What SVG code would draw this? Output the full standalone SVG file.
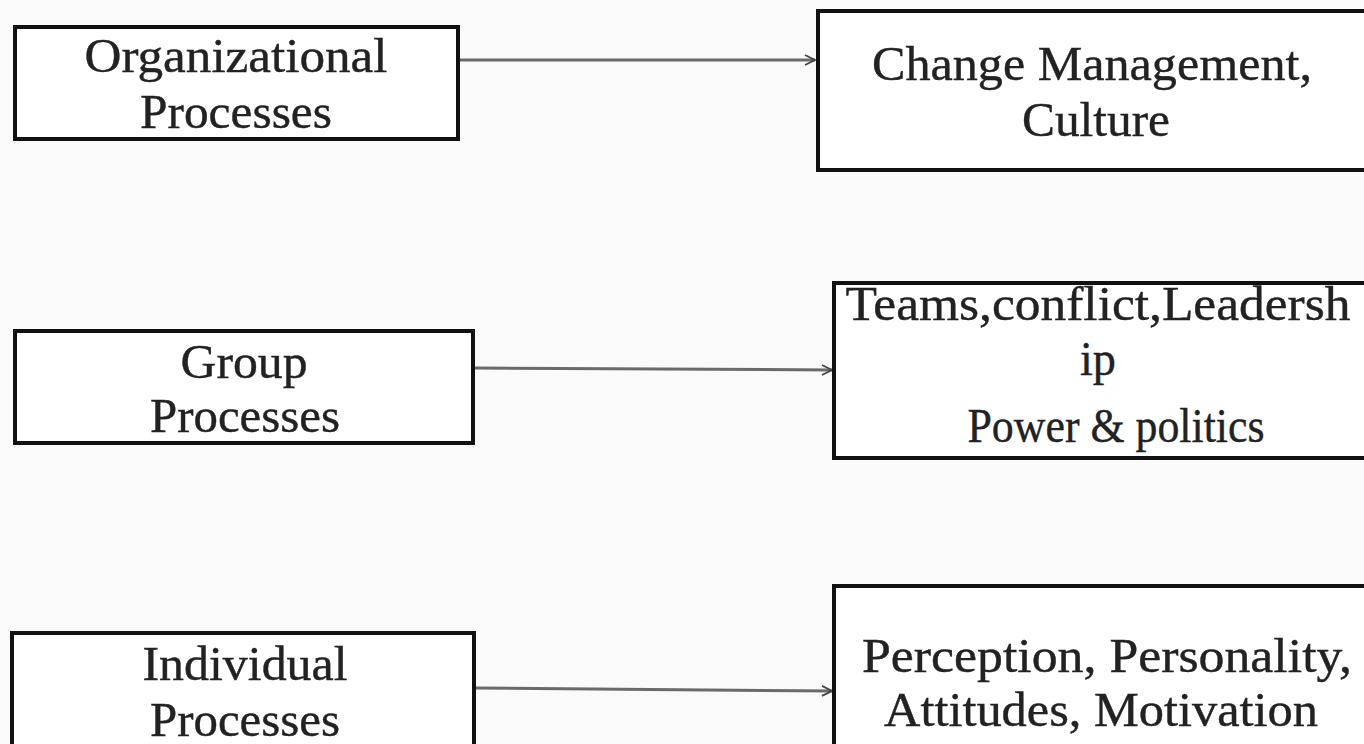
<svg xmlns="http://www.w3.org/2000/svg" width="1364" height="744" viewBox="0 0 1364 744">
<defs>
<marker id="arr" viewBox="0 0 12 12" refX="11" refY="6" markerWidth="12" markerHeight="12" markerUnits="userSpaceOnUse" orient="auto">
<path d="M1,1 L11,6 L1,11" fill="none" stroke="#444" stroke-width="1.8"/>
</marker>
</defs>
<style>
.box{fill:#ffffff;stroke:#111;stroke-width:4}
.t{font-family:"Liberation Serif","DejaVu Serif",serif;font-size:48px;fill:#222;text-anchor:middle;stroke:#222;stroke-width:0.4}
.c{stroke:#6a6a6a;stroke-width:3;fill:none}
</style>
<rect width="1364" height="744" fill="#fafafa"/>
<g id="connectors">
<line class="c" x1="459" y1="60" x2="815" y2="60" marker-end="url(#arr)"/>
<line class="c" x1="474" y1="368" x2="832" y2="370" marker-end="url(#arr)"/>
<line class="c" x1="475" y1="688" x2="832" y2="691" marker-end="url(#arr)"/>
</g>
<g id="org">
<rect class="box" x="15" y="27" width="443" height="112"/>
<text class="t" x="236" y="72" textLength="303" lengthAdjust="spacingAndGlyphs">Organizational</text>
<text class="t" x="236" y="128" textLength="192" lengthAdjust="spacingAndGlyphs">Processes</text>
</g>
<g id="change">
<rect class="box" x="818" y="11" width="560" height="159"/>
<text class="t" x="1092" y="80" textLength="440" lengthAdjust="spacingAndGlyphs">Change Management,</text>
<text class="t" x="1096" y="136" textLength="148" lengthAdjust="spacingAndGlyphs">Culture</text>
</g>
<g id="group">
<rect class="box" x="15" y="331" width="458" height="112"/>
<text class="t" x="244" y="378" textLength="127" lengthAdjust="spacingAndGlyphs">Group</text>
<text class="t" x="245" y="432" textLength="190" lengthAdjust="spacingAndGlyphs">Processes</text>
</g>
<g id="teams">
<rect class="box" x="834" y="283" width="545" height="175"/>
<text class="t" x="1098" y="320" textLength="505" lengthAdjust="spacingAndGlyphs">Teams,conflict,Leadersh</text>
<text class="t" x="1098" y="375" textLength="36" lengthAdjust="spacingAndGlyphs">ip</text>
<text class="t" x="1116" y="442" textLength="297" lengthAdjust="spacingAndGlyphs">Power &amp; politics</text>
</g>
<g id="individual">
<rect class="box" x="12" y="633" width="462" height="130"/>
<text class="t" x="245" y="680" textLength="205" lengthAdjust="spacingAndGlyphs">Individual</text>
<text class="t" x="245" y="736" textLength="190" lengthAdjust="spacingAndGlyphs">Processes</text>
</g>
<g id="perception">
<rect class="box" x="834" y="586" width="545" height="180"/>
<text class="t" x="1107" y="672" textLength="490" lengthAdjust="spacingAndGlyphs">Perception, Personality,</text>
<text class="t" x="1101" y="726" textLength="434" lengthAdjust="spacingAndGlyphs">Attitudes, Motivation</text>
</g>
</svg>
